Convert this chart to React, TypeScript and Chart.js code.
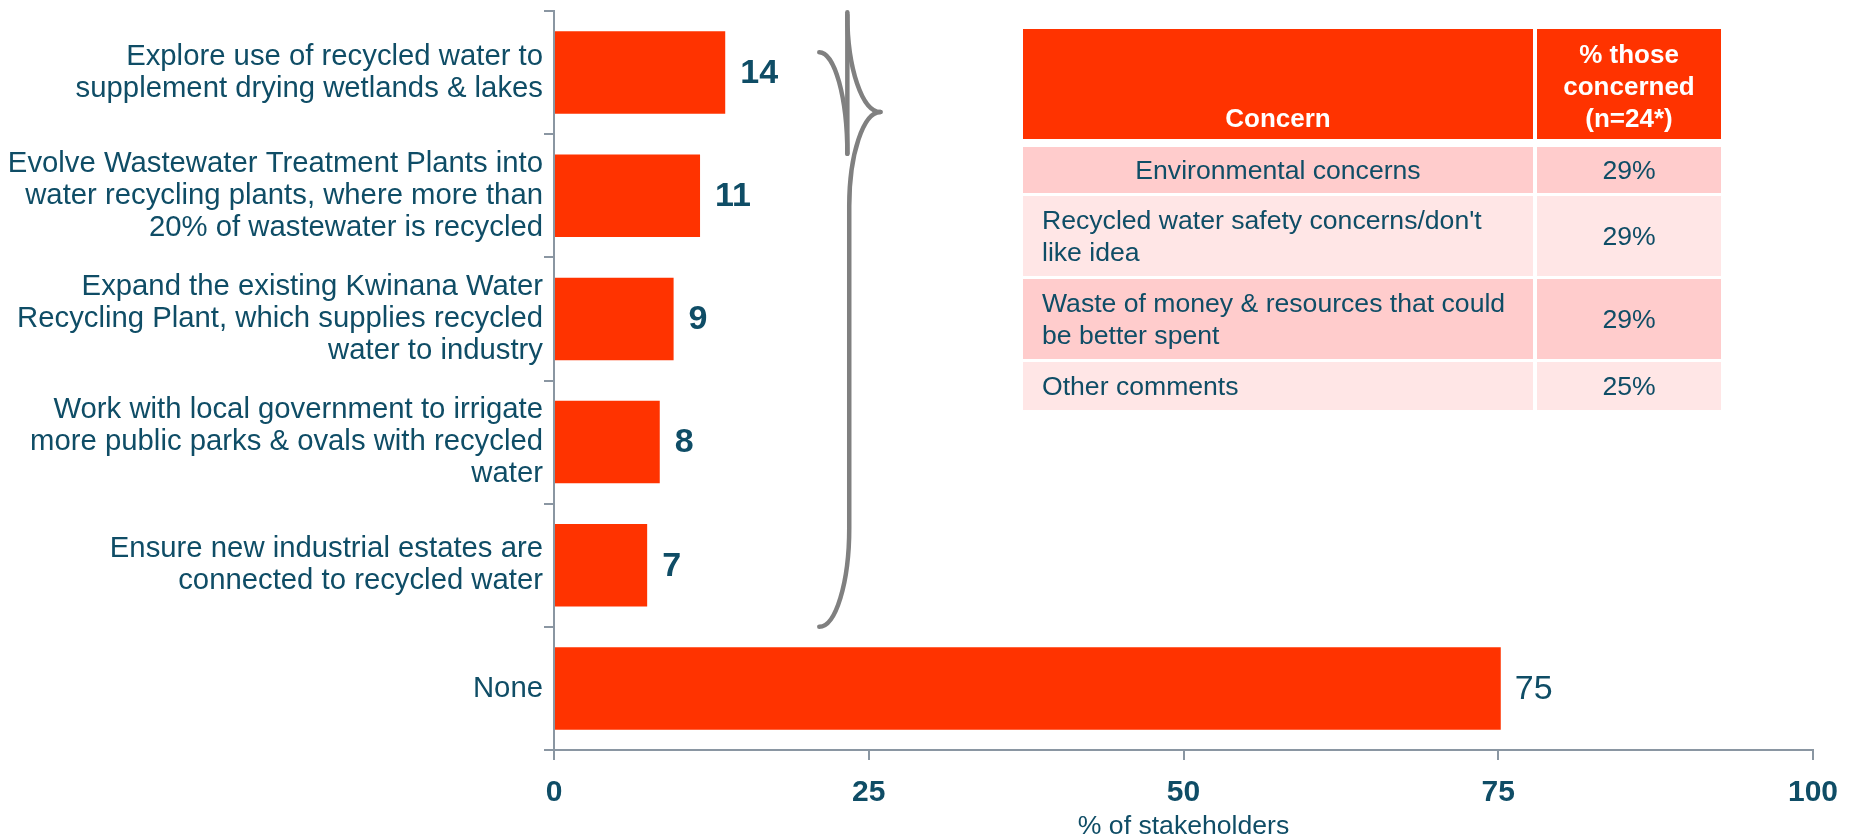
import React, { useEffect, useRef } from "react";
import { Chart, registerables } from "chart.js";

Chart.register(...registerables);

// ---------- data ----------
const categories: string[][] = [
  ["Explore use of recycled water to", "supplement drying wetlands & lakes"],
  ["Evolve Wastewater Treatment Plants into", "water recycling plants, where more than", "20% of wastewater is recycled"],
  ["Expand the existing Kwinana Water", "Recycling Plant, which supplies recycled", "water to industry"],
  ["Work with local government to irrigate", "more public parks & ovals with recycled", "water"],
  ["Ensure new industrial estates are", "connected to recycled water"],
  ["None"],
];
const values = [13.6, 11.6, 9.5, 8.4, 7.4, 75.2];
const valueLabels = ["14", "11", "9", "8", "7", "75"];
const xTickValues = [0, 25, 50, 75, 100];
const axisTitle = "% of stakeholders";

const headerConcern = "Concern";
const headerShare = ["% those", "concerned", "(n=24*)"];
const concerns: string[][] = [
  ["Environmental concerns"],
  ["Recycled water safety concerns/don't", "like idea"],
  ["Waste of money & resources that could", "be better spent"],
  ["Other comments"],
];
const concernShares = ["29%", "29%", "29%", "25%"];

// ---------- style ----------
const FONT = '"Liberation Sans", Arial, Helvetica, sans-serif';
const TEAL = "#0F4D66";
const ORANGE = "#FF3300";
const AXIS = "#8A96A2";
const BRACE = "#808080";

const valueLabelPlugin = {
  id: "valueLabels",
  afterDatasetsDraw(chart: any) {
    const ctx = chart.ctx;
    const meta = chart.getDatasetMeta(0);
    meta.data.forEach((bar: any, i: number) => {
      ctx.save();
      const last = i === values.length - 1;
      ctx.font = `${last ? "normal" : "bold"} 34px ${FONT}`;
      ctx.fillStyle = TEAL;
      ctx.textAlign = "left";
      ctx.textBaseline = "middle";
      ctx.fillText(valueLabels[i], bar.x + (last ? 14 : 15), bar.y + 1);
      ctx.restore();
    });
  },
};

const bracePlugin = {
  id: "brace",
  afterDraw(chart: any) {
    const xs = chart.scales.x;
    const ys = chart.scales.y;
    const band = ys.getPixelForValue(1) - ys.getPixelForValue(0);
    const X = (v: number) => xs.getPixelForValue(v);
    const Y = (i: number) => ys.getPixelForValue(0) + i * band;
    const ctx = chart.ctx;
    ctx.save();
    ctx.strokeStyle = BRACE;
    ctx.lineWidth = 4.5;
    ctx.lineCap = "round";
    ctx.lineJoin = "round";
    const k = 0.55;
    // upper vertical stroke
    ctx.beginPath();
    ctx.moveTo(X(23.3), Y(-0.49));
    ctx.lineTo(X(23.3), Y(0.66));
    ctx.stroke();
    // left upper arm
    {
      const sx = X(21.07), sy = Y(-0.166), ex = X(23.3), ey = Y(0.66);
      ctx.beginPath();
      ctx.moveTo(sx, sy);
      ctx.bezierCurveTo(sx + k * (ex - sx), sy, ex, ey - k * (ey - sy), ex, ey);
      ctx.stroke();
    }
    // top to tip
    {
      const sx = X(23.3), sy = Y(-0.47), ex = X(25.93), ey = Y(0.32);
      ctx.beginPath();
      ctx.moveTo(sx, sy);
      ctx.bezierCurveTo(sx, sy + k * (ey - sy), ex - k * (ex - sx), ey, ex, ey);
      ctx.stroke();
    }
    // tip down to long line, then bottom arm
    {
      const tx = X(25.93), ty = Y(0.32), lx = X(23.45), ly = Y(1.083);
      const by = Y(3.7), ex = X(21.07), ey = Y(4.5);
      ctx.beginPath();
      ctx.moveTo(tx, ty);
      ctx.bezierCurveTo(tx - k * (tx - lx), ty, lx, ly - k * (ly - ty), lx, ly);
      ctx.lineTo(lx, by);
      ctx.bezierCurveTo(lx, by + k * (ey - by), ex + k * (lx - ex), ey, ex, ey);
      ctx.stroke();
    }
    ctx.restore();
  },
};

// table geometry
const TBL_LEFT = 1023;
const TBL_TOP = 29;
const COL_W = [510, 184];
const COL_GAP = 4;
const HEADER_H = 110;
const HEADER_GAP = 8;
const ROW_H = [46, 80, 80, 48];
const ROW_GAP = 3;
const ROW_BG = ["#FFCCCC", "#FFE6E6", "#FFCCCC", "#FFE6E6"];

function ConcernTable() {
  const cellText: React.CSSProperties = {
    fontFamily: FONT,
    fontSize: 26.6,
    lineHeight: "32px",
    color: TEAL,
    whiteSpace: "nowrap",
  };
  let y = HEADER_H + HEADER_GAP;
  const rows = concerns.map((lines, i) => {
    const top = y;
    y += ROW_H[i] + ROW_GAP;
    const centered = i === 0;
    return (
      <React.Fragment key={i}>
        <div
          style={{
            position: "absolute",
            left: 0,
            top,
            width: COL_W[0],
            height: ROW_H[i],
            background: ROW_BG[i],
            display: "flex",
            flexDirection: "column",
            justifyContent: "center",
            alignItems: centered ? "center" : "flex-start",
            paddingLeft: centered ? 0 : 19,
            boxSizing: "border-box",
            ...cellText,
          }}
        >
          {lines.map((l, j) => (
            <div key={j}>{l}</div>
          ))}
        </div>
        <div
          style={{
            position: "absolute",
            left: COL_W[0] + COL_GAP,
            top,
            width: COL_W[1],
            height: ROW_H[i],
            background: ROW_BG[i],
            display: "flex",
            alignItems: "center",
            justifyContent: "center",
            ...cellText,
          }}
        >
          {concernShares[i]}
        </div>
      </React.Fragment>
    );
  });
  const headText: React.CSSProperties = {
    fontFamily: FONT,
    fontSize: 26,
    fontWeight: "bold",
    lineHeight: "32px",
    color: "#FFFFFF",
    whiteSpace: "nowrap",
  };
  return (
    <div style={{ position: "fixed", left: TBL_LEFT, top: TBL_TOP, width: COL_W[0] + COL_GAP + COL_W[1], height: 400 }}>
      <div
        style={{
          position: "absolute",
          left: 0,
          top: 0,
          width: COL_W[0],
          height: HEADER_H,
          background: ORANGE,
          display: "flex",
          flexDirection: "column",
          justifyContent: "flex-end",
          alignItems: "center",
          paddingBottom: 5,
          boxSizing: "border-box",
          ...headText,
        }}
      >
        <div>{headerConcern}</div>
      </div>
      <div
        style={{
          position: "absolute",
          left: COL_W[0] + COL_GAP,
          top: 0,
          width: COL_W[1],
          height: HEADER_H,
          background: ORANGE,
          display: "flex",
          flexDirection: "column",
          justifyContent: "flex-end",
          alignItems: "center",
          paddingBottom: 5,
          boxSizing: "border-box",
          ...headText,
        }}
      >
        {headerShare.map((l, j) => (
          <div key={j}>{l}</div>
        ))}
      </div>
      {rows}
    </div>
  );
}

export default function App() {
  const canvasRef = useRef<HTMLCanvasElement | null>(null);

  useEffect(() => {
    if (!canvasRef.current) return;
    const chart = new Chart(canvasRef.current, {
      type: "bar",
      data: {
        labels: categories,
        datasets: [
          {
            data: values,
            backgroundColor: ORANGE,
            borderWidth: 0,
            barPercentage: 0.67,
            categoryPercentage: 1,
          },
        ],
      },
      options: {
        indexAxis: "y",
        responsive: false,
        animation: false,
        devicePixelRatio: 1,
        layout: { padding: { top: 11, right: 39, left: 0, bottom: 0 } },
        plugins: {
          legend: { display: false },
          tooltip: { enabled: false },
        },
        scales: {
          x: {
            type: "linear",
            min: 0,
            max: 100,
            afterBuildTicks: (s: any) => {
              s.ticks = xTickValues.map((v) => ({ value: v }));
            },
            grid: { drawOnChartArea: false, drawTicks: true, tickLength: 10, color: AXIS, lineWidth: 2 },
            border: { display: true, color: AXIS, width: 2 },
            ticks: {
              color: TEAL,
              font: { family: FONT, size: 30, weight: "bold" },
              padding: 15,
              maxRotation: 0,
            },
            title: {
              display: true,
              text: axisTitle,
              color: TEAL,
              font: { family: FONT, size: 26.6, lineHeight: "17px" },
              padding: 0,
            },
            afterFit: (s: any) => {
              s.height = 85;
              s.paddingLeft = 0;
              s.paddingRight = 0;
            },
          },
          y: {
            type: "category",
            grid: { drawOnChartArea: false, drawTicks: true, tickLength: 10, color: AXIS, lineWidth: 2, offset: true },
            border: { display: true, color: AXIS, width: 2 },
            ticks: {
              color: TEAL,
              font: { family: FONT, size: 29.3, lineHeight: "32px" },
              padding: 1,
              autoSkip: false,
            },
            afterFit: (s: any) => {
              s.width = 554;
              s.paddingTop = 0;
              s.paddingBottom = 0;
            },
          },
        },
      } as any,
      plugins: [valueLabelPlugin, bracePlugin],
    });
    return () => chart.destroy();
  }, []);

  return (
    <div>
      <canvas
        ref={canvasRef}
        width={1852}
        height={835}
        style={{ position: "fixed", left: 0, top: 0, width: 1852, height: 835 }}
      />
      <ConcernTable />
    </div>
  );
}
